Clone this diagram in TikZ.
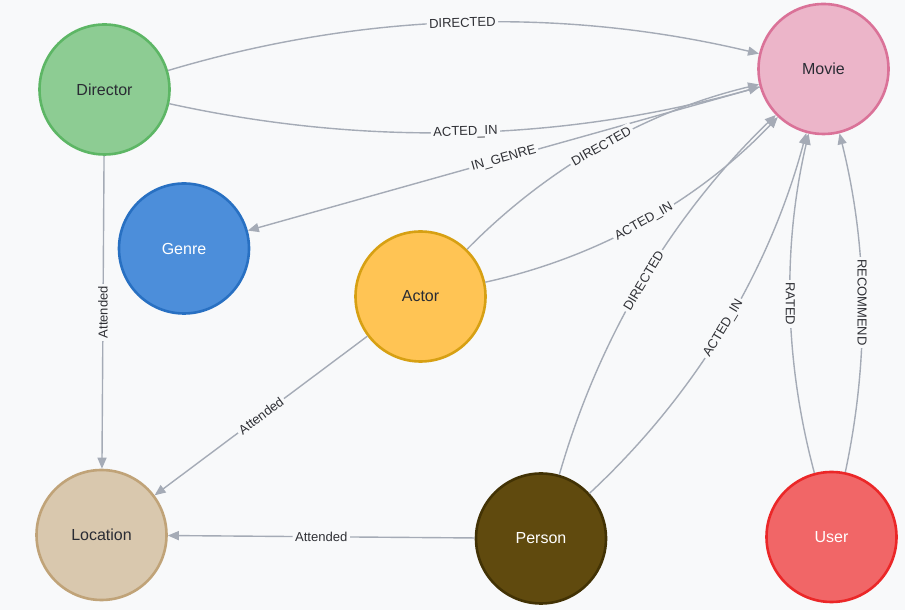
\documentclass[tikz,border=0pt]{standalone}
\usepackage{fontspec}
\setmainfont{Liberation Sans}
\usetikzlibrary{arrows.meta}
\definecolor{bgc}{HTML}{F8F9FA}
\definecolor{edgec}{HTML}{A5ABB6}
\definecolor{lblc}{HTML}{2F3035}
\definecolor{txtc}{HTML}{2A2C34}
\definecolor{dirF}{HTML}{8DCC93}\definecolor{dirB}{HTML}{5DB665}
\definecolor{movF}{HTML}{ECB5C9}\definecolor{movB}{HTML}{DA7298}
\definecolor{genF}{HTML}{4C8EDA}\definecolor{genB}{HTML}{2870C2}
\definecolor{actF}{HTML}{FFC454}\definecolor{actB}{HTML}{D7A013}
\definecolor{locF}{HTML}{D9C8AE}\definecolor{locB}{HTML}{C0A378}
\definecolor{perF}{HTML}{604A0E}\definecolor{perB}{HTML}{423204}
\definecolor{useF}{HTML}{F16667}\definecolor{useB}{HTML}{EB2728}
\newcommand{\nodefnt}{\fontsize{16}{18}\selectfont}
\newcommand{\lblfnt}{\fontsize{13}{15}\selectfont}
\begin{document}
\begin{tikzpicture}[x=1pt,y=1pt,
  nd/.style={circle, minimum size=130pt, inner sep=0pt, line width=2.6pt, font=\nodefnt, text=txtc},
  rel/.style={draw=edgec, line width=1.4pt, -{Triangle[length=11pt,width=9pt]}},
  curved/.style={looseness=0.88},
  lbl/.style={fill=bgc, inner sep=2.5pt, font=\lblfnt, text=lblc, sloped},
  vlbl/.style={fill=bgc, inner sep=2.5pt, font=\lblfnt, text=lblc},
]
\fill[bgc] (0,0) rectangle (905,610);
\useasboundingbox (0,0) rectangle (905,610);

\node[nd, fill=dirF, draw=dirB] (director) at (104.5,520.5) {Director};
\node[nd, fill=movF, draw=movB] (movie) at (823.5,541) {Movie};
\node[nd, fill=genF, draw=genB, text=white] (genre) at (184,361.5) {Genre};
\node[nd, fill=actF, draw=actB] (actor) at (420.5,313.5) {Actor};
\node[nd, fill=locF, draw=locB] (location) at (101.5,75) {Location};
\node[nd, fill=perF, draw=perB, text=white] (person) at (541,71.5) {Person};
\node[nd, fill=useF, draw=useB, text=white] (user) at (831.5,73) {User};

\draw[rel, curved] (director) to[bend left=15] node[lbl]{DIRECTED} (movie);
\draw[rel, curved] (director) to[bend right=14] node[lbl]{ACTED\_IN} (movie);
\draw[rel] (movie) -- node[lbl]{IN\_GENRE} (genre);
\draw[rel, curved] (actor) to[bend left=16] node[lbl]{DIRECTED} (movie);
\draw[rel, curved] (actor) to[bend right=17] node[lbl]{ACTED\_IN} (movie);
\draw[rel, curved] (person) to[bend left=15] node[lbl]{DIRECTED} (movie);
\draw[rel, curved] (person) to[bend right=16] node[lbl]{ACTED\_IN} (movie);
\draw[rel, curved] (user) to[bend left=14] node[vlbl, rotate=-90]{RATED} (movie);
\draw[rel, curved] (user) to[bend right=13] node[vlbl, rotate=-90]{RECOMMEND} (movie);
\draw[rel] (director) -- node[vlbl, rotate=90]{Attended} (location);
\draw[rel] (actor) -- node[lbl]{Attended} (location);
\draw[rel] (person) -- node[lbl]{Attended} (location);
\end{tikzpicture}
\end{document}
